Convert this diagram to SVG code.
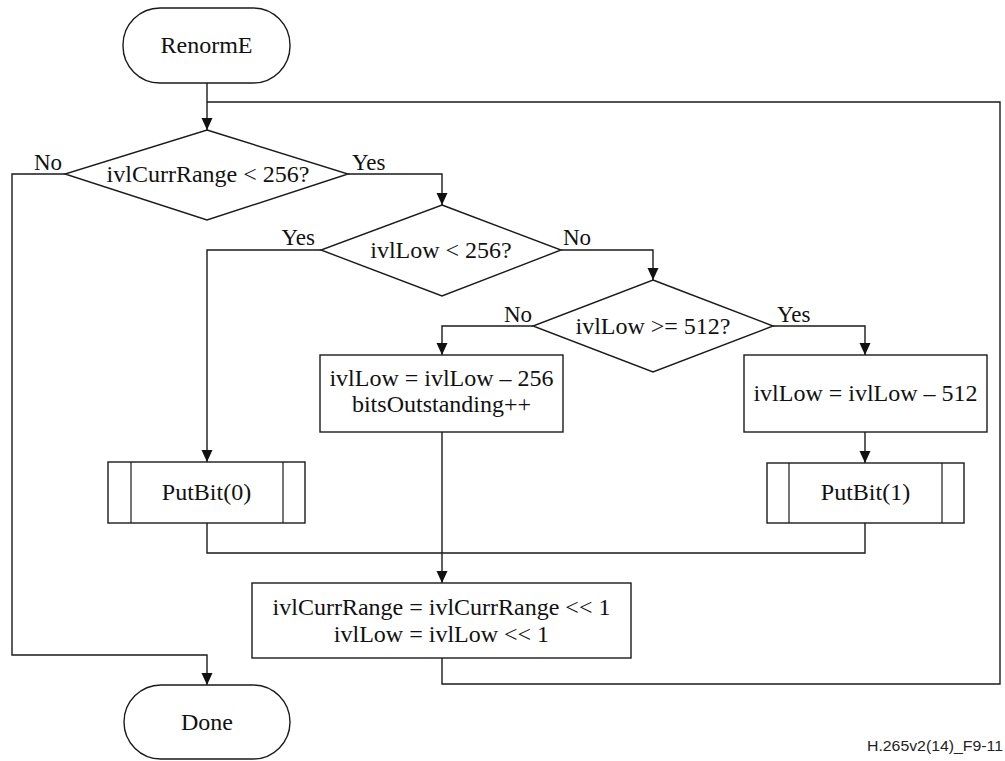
<svg xmlns="http://www.w3.org/2000/svg" width="1005" height="761" viewBox="0 0 1005 761">
  <style>
    .shape { fill: #ffffff; stroke: #1a1a1a; stroke-width: 1.4; }
    .thin { fill: none; stroke: #1a1a1a; stroke-width: 1.2; }
    .wire { fill: none; stroke: #1a1a1a; stroke-width: 1.4; }
    .arrow { fill: none; stroke: #1a1a1a; stroke-width: 1.4; marker-end: url(#head); }
    .t { font-family: "Liberation Serif", "Times New Roman", serif; font-size: 24px; fill: #111111; text-anchor: middle; }
    .lbl { font-family: "Liberation Serif", "Times New Roman", serif; font-size: 23px; fill: #111111; }
    .foot { font-family: "Liberation Sans", Arial, sans-serif; font-size: 15px; fill: #222222; text-anchor: end; }
  </style>
  <defs>
    <marker id="head" viewBox="0 0 12 12" refX="12" refY="6" markerWidth="12" markerHeight="12" markerUnits="userSpaceOnUse" orient="auto">
      <path d="M0,0.5 L12,6 L0,11.5 Z" fill="#111111"/>
    </marker>
  </defs>

  <rect width="1005" height="761" fill="#ffffff"/>

  <!-- connectors -->
  <g id="connectors">
    <path class="arrow" d="M207,83 V130"/>
    <path class="wire" d="M442,658 V684 H1000 V102 H207"/>
    <path class="arrow" d="M65,174 H12 V655 H207 V685"/>
    <path class="arrow" d="M348,174 H442 V205"/>
    <path class="arrow" d="M321,250 H207 V462"/>
    <path class="arrow" d="M561,250 H653 V280"/>
    <path class="arrow" d="M533,326 H442 V355"/>
    <path class="arrow" d="M773,326 H865 V355"/>
    <path class="arrow" d="M865,432 V463"/>
    <path class="wire" d="M207,523 V553 H865 V523"/>
    <path class="arrow" d="M442,432 V583"/>
  </g>

  <!-- edge labels -->
  <g id="labels">
    <text class="lbl" x="62" y="170" text-anchor="end">No</text>
    <text class="lbl" x="352" y="170">Yes</text>
    <text class="lbl" x="315" y="245" text-anchor="end">Yes</text>
    <text class="lbl" x="563" y="245">No</text>
    <text class="lbl" x="532" y="322" text-anchor="end">No</text>
    <text class="lbl" x="777" y="322">Yes</text>
  </g>

  <g id="start">
    <rect class="shape" x="123" y="8" width="167" height="75" rx="37" ry="37"/>
    <text class="t" x="206.5" y="53">RenormE</text>
  </g>

  <g id="check-range">
    <polygon class="shape" points="207,130 348,174 207,220 65,174"/>
    <text class="t" x="208" y="182">ivlCurrRange &lt; 256?</text>
  </g>

  <g id="check-low-256">
    <polygon class="shape" points="442,205 561,250 442,296 321,250"/>
    <text class="t" x="441" y="258">ivlLow &lt; 256?</text>
  </g>

  <g id="check-low-512">
    <polygon class="shape" points="653,280 773,326 653,372 533,326"/>
    <text class="t" x="653" y="334">ivlLow &gt;= 512?</text>
  </g>

  <g id="sub-256">
    <rect class="shape" x="320" y="355" width="243" height="77"/>
    <text class="t" x="441.5" y="386">ivlLow = ivlLow – 256</text>
    <text class="t" x="441.5" y="412">bitsOutstanding++</text>
  </g>

  <g id="sub-512">
    <rect class="shape" x="744" y="355" width="243" height="77"/>
    <text class="t" x="865.5" y="401">ivlLow = ivlLow – 512</text>
  </g>

  <g id="putbit-0">
    <rect class="shape" x="108" y="462" width="197" height="61"/>
    <line class="thin" x1="131" y1="462" x2="131" y2="523"/>
    <line class="thin" x1="283" y1="462" x2="283" y2="523"/>
    <text class="t" x="206.5" y="500">PutBit(0)</text>
  </g>

  <g id="putbit-1">
    <rect class="shape" x="767" y="463" width="197" height="60"/>
    <line class="thin" x1="789" y1="463" x2="789" y2="523"/>
    <line class="thin" x1="942" y1="463" x2="942" y2="523"/>
    <text class="t" x="865.5" y="500">PutBit(1)</text>
  </g>

  <g id="shift">
    <rect class="shape" x="252" y="583" width="379" height="75"/>
    <text class="t" x="441.5" y="615">ivlCurrRange = ivlCurrRange &lt;&lt; 1</text>
    <text class="t" x="441.5" y="642">ivlLow = ivlLow &lt;&lt; 1</text>
  </g>

  <g id="done">
    <rect class="shape" x="124" y="685" width="166" height="74" rx="37" ry="37"/>
    <text class="t" x="207" y="730">Done</text>
  </g>

  <text class="foot" x="1003" y="751" textLength="136" lengthAdjust="spacingAndGlyphs">H.265v2(14)_F9-11</text>
</svg>
